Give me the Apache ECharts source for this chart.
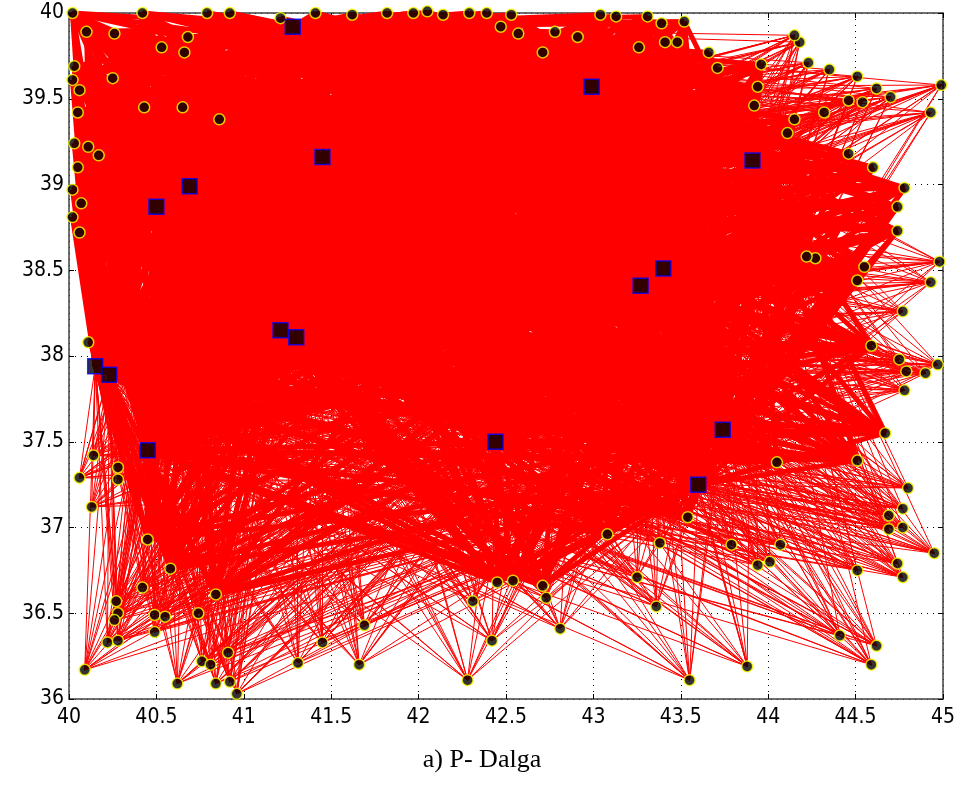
<!DOCTYPE html>
<html>
<head>
<meta charset="utf-8">
<title>P- Dalga</title>
<script src="https://cdn.jsdelivr.net/npm/echarts@6/dist/echarts.min.js"></script>
<style>
  html, body { margin: 0; padding: 0; background: #fff; }
  #chart { width: 964px; height: 796px; }
</style>
</head>
<body>
<div id="chart"></div>
<script>
// stations (blue squares)
var stationLon = [41.28, 42.99, 41.45, 43.91, 40.69, 40.50, 43.40, 43.27,
  41.21, 41.30, 40.15, 40.23, 40.45, 42.44, 43.74, 43.60]
var stationLat = [39.92, 39.57, 39.16, 39.14, 38.99, 38.87, 38.51, 38.41,
  38.15, 38.11, 37.94, 37.89, 37.45, 37.50, 37.57, 37.25]

// events sitting in / on the edge of the dense ray mass
var coreLon = [
  40.02, 40.10, 40.26, 40.42, 40.53, 40.68, 40.66, 40.25, 40.03, 40.02,
  40.06, 40.43, 40.65, 40.05, 40.03, 40.11, 40.17, 40.05, 40.02, 40.07,
  40.02, 40.06, 40.86,
  40.79, 40.92, 41.21, 41.41, 41.62, 41.82, 41.97, 42.05, 42.14, 42.29,
  42.39, 42.53, 42.47, 42.57, 42.78, 42.91, 42.71, 43.04, 43.13, 43.31,
  43.39, 43.52, 43.41, 43.48, 43.26, 43.66, 43.71,
  43.96, 43.94, 43.92, 44.11, 44.15, 44.27, 44.22, 44.51, 44.55, 44.59,
  44.46, 44.60, 44.78, 44.74, 44.74, 44.67,
  44.51, 44.05, 43.54, 43.08, 42.45, 42.54, 42.71, 40.45, 40.58, 40.84
]
var coreLat = [
  40.00, 39.89, 39.88, 40.00, 39.80, 39.86, 39.77, 39.62, 39.69, 39.61,
  39.55, 39.45, 39.45, 39.42, 39.24, 39.22, 39.17, 39.10, 38.97, 38.89,
  38.81, 38.72, 39.38,
  40.00, 40.00, 39.97, 40.00, 39.99, 40.00, 40.00, 40.01, 39.99, 40.00,
  40.00, 39.99, 39.92, 39.88, 39.89, 39.86, 39.77, 39.99, 39.98, 39.98,
  39.94, 39.95, 39.83, 39.83, 39.80, 39.77, 39.68,
  39.70, 39.57, 39.46, 39.30, 39.38, 38.57, 38.58, 38.44, 38.52, 38.06,
  39.18, 39.10, 38.98, 38.87, 38.73, 37.55,
  37.39, 37.38, 37.06, 36.96, 36.68, 36.69, 36.66, 36.93, 36.76, 36.61
]

// events outside the mass, whose rays show as separate thin lines
var fanLon = [
  40.11, 40.14, 40.06, 40.28, 40.28, 40.13,
  40.42, 40.27, 40.28, 40.26, 40.22, 40.28, 40.49, 40.49, 40.55, 40.09,
  40.74, 40.76, 40.81, 40.91, 40.62, 40.84, 40.92, 40.96, 41.31, 41.45,
  41.69, 41.66, 42.31, 42.28, 42.42, 42.73, 42.81, 43.25, 43.36, 43.55,
  43.88, 43.38, 43.79, 43.94, 44.01, 44.07, 44.41, 44.62, 44.59, 44.51,
  44.74, 44.77, 44.95, 44.77, 44.69, 44.77, 44.80, 44.69,
  44.78, 44.90, 44.97, 44.79, 44.75, 44.77, 44.93, 44.98,
  44.32, 44.46, 44.54, 44.93, 44.99, 44.70, 44.62, 44.51, 44.35, 44.23,
  44.18, 44.15
]
var fanLat = [
  38.08, 37.42, 37.29, 37.28, 37.35, 37.12,
  36.65, 36.57, 36.50, 36.46, 36.33, 36.34, 36.49, 36.39, 36.48, 36.17,
  36.50, 36.22, 36.20, 36.27, 36.09, 36.09, 36.10, 36.03, 36.21, 36.33,
  36.43, 36.20, 36.57, 36.11, 36.34, 36.59, 36.41, 36.71, 36.54, 36.11,
  36.19, 36.91, 36.90, 36.78, 36.80, 36.90, 36.37, 36.31, 36.20, 36.75,
  36.79, 36.71, 36.85, 37.00, 36.99, 37.11, 37.23, 37.07,
  37.80, 37.90, 37.95, 37.91, 37.98, 38.26, 38.43, 38.55,
  39.42, 39.49, 39.48, 39.42, 39.58, 39.51, 39.56, 39.63, 39.67, 39.71,
  39.83, 39.87
]

var stations = stationLon.map(function (x, i) { return [x, stationLat[i]] })
var coreEvents = coreLon.map(function (x, i) { return [x, coreLat[i]] })
var fanEvents = fanLon.map(function (x, i) { return [x, fanLat[i]] })

// ray paths: every event to every station
function raysFrom (evts) {
  var out = []
  evts.forEach(function (e) {
    stations.forEach(function (s) {
      out.push({ coords: [e, s] })
    })
  })
  return out
}

var labelFont = {
  color: '#000',
  fontSize: 21,
  fontFamily: '"Liberation Sans Narrow", "DejaVu Sans Condensed", "Liberation Sans", sans-serif'
}

function xAx (pos, showLabel) {
  return {
    type: 'value',
    position: pos,
    min: 40,
    max: 45,
    interval: 0.5,
    axisLine: { show: true, onZero: false, lineStyle: { color: '#404040', width: 1.5 } },
    axisTick: { show: true, inside: true, length: 5, lineStyle: { color: '#000' } },
    axisLabel: Object.assign({ show: showLabel, margin: 8 }, labelFont),
    splitLine: { show: showLabel, lineStyle: { color: '#000', type: [1, 5], width: 1 } }
  }
}
function yAx (pos, showLabel) {
  return {
    type: 'value',
    position: pos,
    min: 36,
    max: 40,
    interval: 0.5,
    axisLine: { show: true, onZero: false, lineStyle: { color: '#404040', width: 1.5 } },
    axisTick: { show: true, inside: true, length: 5, lineStyle: { color: '#000' } },
    axisLabel: Object.assign({ show: showLabel, margin: 5 }, labelFont),
    splitLine: { show: showLabel, lineStyle: { color: '#000', type: [1, 5], width: 1 } }
  }
}

var eventStyle = { color: '#000', borderColor: '#ffff00', borderWidth: 1.5 }

var chart = echarts.init(document.getElementById('chart'), null, { renderer: 'canvas' })
chart.setOption({
  animation: false,
  backgroundColor: '#fff',
  title: {
    text: 'a) P- Dalga',
    left: 'center',
    top: 742,
    textStyle: {
      fontFamily: '"Liberation Serif", "DejaVu Serif", serif',
      fontWeight: 'normal',
      fontSize: 26,
      color: '#000'
    }
  },
  grid: { left: 69, right: 21, top: 13, bottom: 97 },
  xAxis: [xAx('bottom', true), xAx('top', false)],
  yAxis: [yAx('left', true), yAx('right', false)],
  series: [
    {
      name: 'core rays',
      type: 'lines',
      coordinateSystem: 'cartesian2d',
      data: raysFrom(coreEvents),
      lineStyle: { color: '#ff0000', width: 5, opacity: 1 },
      silent: true,
      z: 2
    },
    {
      name: 'fan rays',
      type: 'lines',
      coordinateSystem: 'cartesian2d',
      data: raysFrom(fanEvents),
      lineStyle: { color: '#ff0000', width: 1, opacity: 1 },
      silent: true,
      z: 2
    },
    {
      name: 'events',
      type: 'scatter',
      data: coreEvents.concat(fanEvents),
      symbol: 'circle',
      symbolSize: 11,
      clip: false,
      itemStyle: eventStyle,
      z: 3
    },
    {
      name: 'stations',
      type: 'scatter',
      data: stations,
      symbol: 'rect',
      symbolSize: 15,
      itemStyle: { color: '#000', borderColor: '#0000ff', borderWidth: 1.5 },
      z: 4
    }
  ]
})
</script>
</body>
</html>
